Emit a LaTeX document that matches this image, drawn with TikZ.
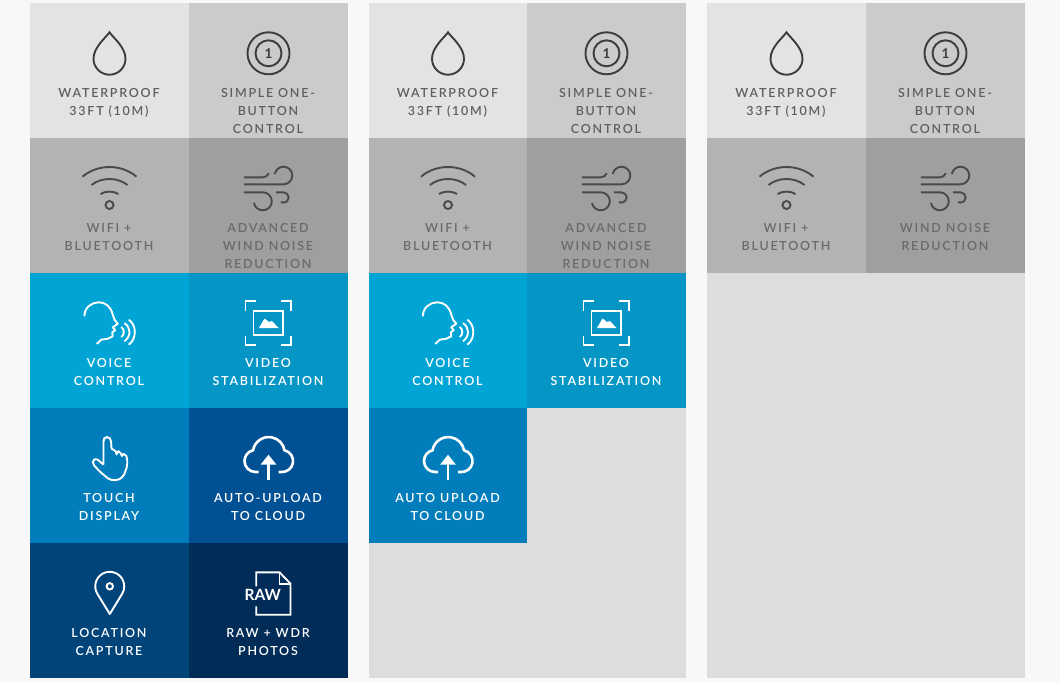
\documentclass[tikz,border=0pt]{standalone}
\usepackage{fontspec}
\setmainfont[LetterSpace=14]{Lato Semibold}
\newfontfamily\rawfont{Lato}
\usetikzlibrary{positioning}
\definecolor{pagebg}{HTML}{F8F8F8}
\definecolor{panelbg}{HTML}{DDDDDD}
\definecolor{toneA}{HTML}{E3E3E1}
\definecolor{toneB}{HTML}{CBCBCB}
\definecolor{toneC}{HTML}{B3B3B3}
\definecolor{toneD}{HTML}{9F9F9F}
\definecolor{toneE}{HTML}{00A5D6}
\definecolor{toneF}{HTML}{0696C6}
\definecolor{toneG}{HTML}{007DBA}
\definecolor{toneH}{HTML}{005193}
\definecolor{toneI}{HTML}{00447A}
\definecolor{toneJ}{HTML}{002C57}
\definecolor{inkA}{HTML}{3C3C3C}
\definecolor{inkB}{HTML}{4A4A4A}
\definecolor{capA}{HTML}{5F5F5F}
\definecolor{capB}{HTML}{6A6A6A}
\tikzset{
  tile/.style={inner sep=0pt,outer sep=0pt,minimum width=159pt,minimum height=135pt},
  captext/.style={inner sep=0pt,outer sep=0pt,align=center,xshift=-.5pt,font=\fontsize{12.5}{18}\selectfont},
  icon/.style={line width=1.9pt},
  pics/drop/.style={code={
    \draw[icon] (0,29.3) .. controls (3,34) and (16,44) .. (16,55.7) arc (0:180:16) .. controls (-16,44) and (-3,34) .. cycle;
  }},
  pics/onebutton/.style={code={
    \draw[icon] (0,50.3) circle (21) (0,50.3) circle (13);
    \node[inner sep=0pt,font=\rawfont\bfseries\fontsize{13.5}{13.5}\selectfont] (-one) at (0,50.3) {1};
  }},
  pics/wifi/.style={code={
    \draw[icon] (-27,38.7) .. controls (-12,25.8) and (12,25.8) .. (27,38.7);
    \draw[icon] (-18,47) .. controls (-8,39) and (8,39) .. (18,47);
    \draw[icon] (-9,56) .. controls (-4,52.8) and (4,52.8) .. (9,56);
    \draw[icon] (0,67) circle (4);
  }},
  pics/wind/.style={code={
    \draw[icon] (-24.7,39.3) -- (-5.7,39.3) .. controls (-3,39.3) and (-1,38) .. (.3,35.3);
    \draw[icon] (-24.7,46.3) -- (15,46.3) arc (90:-170:8.8);
    \draw[icon] (-24.7,54.3) -- (-5.7,54.3) arc (-90:170:9);
    \draw[icon] (7.7,54.3) -- (15,54.3) arc (-90:120:5.2);
  }},
  pics/voice/.style={code={
    \draw[icon,line join=round] (-25,43.3) .. controls (-25.5,35) and (-18,29.3) .. (-11,29.3) .. controls (-4,29.3) and (1,33) .. (3.3,41.7) -- (5,46.7) -- (8.3,50.7) -- (3.3,54.3) -- (5.7,57.3) -- (2.7,59.3) -- (3.3,63.3) -- (-1.7,65.7) -- (-8.3,66.7) -- (-12.7,71);
    \draw[icon] (11.7,54) .. controls (15.2,56) and (15.2,62) .. (11.7,64);
    \draw[icon] (15,50) .. controls (21.7,55) and (21.7,63) .. (15,68.3);
    \draw[icon] (19.3,46.7) .. controls (27.3,52) and (27.3,66) .. (19.3,71.7);
  }},
  pics/video/.style={code={
    \draw[icon] (-23,38) -- (-23,28.3) -- (-13,28.3);
    \draw[icon] (12.7,28.3) -- (22.7,28.3) -- (22.7,38);
    \draw[icon] (-23,62.5) -- (-23,72.3) -- (-13,72.3);
    \draw[icon] (12.7,72.3) -- (22.7,72.3) -- (22.7,62.5);
    \draw[icon] (-15,38.3) rectangle (14.3,62.3);
    \fill (-9.5,55) -- (-4,45.5) -- (.5,49) -- (3.5,48) -- (10,55) -- cycle;
  }},
  pics/touch/.style={code={
    \draw[icon,rounded corners=2pt,line join=round] (-6,56.7) -- (-6,31.7) -- (-4.5,29) -- (-.5,29) -- (1.5,31.7) -- (2,41.7) -- (6,41.7) -- (7.3,47.7) -- (7.5,43.3) -- (10.5,43.3) -- (12.7,49) -- (12.7,46) -- (16,46) -- (17.7,50) -- (17.7,58.3) -- (14,68.3) -- (8.3,72.3) -- (0,71.7) -- (-10,63.3) -- (-16.7,56) -- (-16.7,52) -- (-13.3,50.3) -- (-6,56.7);
  }},
  pics/cloud/.style={code={
    \draw[line width=2.6pt] (-10,64) -- (-13,64) arc (90:257:11) arc (190:350:16) arc (283:450:11) -- (10,64);
    \draw[line width=2.2pt] (0,72.3) -- (0,53);
    \fill (-8,56.7) -- (0,46.7) -- (8,56.7) -- cycle;
  }},
  pics/pin/.style={code={
    \draw[icon,line join=round] (.3,71) -- (-12.1,50.9) arc (148.4:391.6:14.5) -- cycle;
    \draw[icon] (.3,43.3) circle (3.2);
  }},
  pics/rawfile/.style={code={
    \draw[icon] (-12.3,43.3) -- (-12.3,29.3) -- (11,29.3) -- (22,40.7) -- (22,71.7) -- (-12.3,71.7) -- (-12.3,63.3);
    \draw[icon] (11,29.3) -- (11,40.7) -- (22,40.7);
    \node[inner sep=0pt,font=\rawfont\bfseries\fontsize{15.5}{15.5}\selectfont] (-raw) at (-5.7,51.7) {RAW};
  }}
}
\begin{document}
\begin{tikzpicture}[x=1pt,y=-1pt]
\node[anchor=north west,inner sep=0pt,outer sep=0pt,fill=pagebg,minimum width=1060pt,minimum height=682pt] (page) at (0,0) {};
\node[anchor=north west,inner sep=0pt,outer sep=0pt,fill=panelbg,minimum width=317pt,minimum height=675pt] (panelb) at (369,3) {};
\node[anchor=north west,inner sep=0pt,outer sep=0pt,fill=panelbg,minimum width=318pt,minimum height=675pt] (panelc) at (707,3) {};
% first panel
\node[tile,fill=toneA,anchor=north west] (dropa) at (30,3) {};
\node[tile,fill=toneB,right=0pt of dropa] (onea) {};
\node[tile,fill=toneC,below=0pt of dropa] (wifia) {};
\node[tile,fill=toneD,right=0pt of wifia] (winda) {};
\node[tile,fill=toneE,below=0pt of wifia] (voicea) {};
\node[tile,fill=toneF,right=0pt of voicea] (videoa) {};
\node[tile,fill=toneG,below=0pt of voicea] (toucha) {};
\node[tile,fill=toneH,right=0pt of toucha] (clouda) {};
\node[tile,fill=toneI,below=0pt of toucha] (pina) {};
\node[tile,fill=toneJ,right=0pt of pina] (rawa) {};
\pic[color=inkA] at (dropa.north) {drop};
\pic[color=inkA] at (onea.north) {onebutton};
\pic[color=inkB] at (wifia.north) {wifi};
\pic[color=inkB] at (winda.north) {wind};
\pic[color=white] at (voicea.north) {voice};
\pic[color=white] at (videoa.north) {video};
\pic[color=white] at (toucha.north) {touch};
\pic[color=white] at (clouda.north) {cloud};
\pic[color=white] at (pina.north) {pin};
\pic[color=white] at (rawa.north) {rawfile};
\node[captext,text=capA,below=85pt of dropa.north] (dropacap) {WATERPROOF\\33FT (10M)};
\node[captext,text=capA,below=85pt of onea.north] (oneacap) {SIMPLE ONE-\\BUTTON\\CONTROL};
\node[captext,text=capB,below=85.4pt of wifia.north] (wifiacap) {WIFI +\\BLUETOOTH};
\node[captext,text=capB,below=85pt of winda.north] (windacap) {ADVANCED\\WIND NOISE\\REDUCTION};
\node[captext,text=white,below=85pt of voicea.north] (voiceacap) {VOICE\\CONTROL};
\node[captext,text=white,below=85pt of videoa.north] (videoacap) {VIDEO\\STABILIZATION};
\node[captext,text=white,below=85pt of toucha.north] (touchacap) {TOUCH\\DISPLAY};
\node[captext,text=white,below=85pt of clouda.north] (cloudacap) {AUTO-UPLOAD\\TO CLOUD};
\node[captext,text=white,below=85pt of pina.north] (pinacap) {LOCATION\\CAPTURE};
\node[captext,text=white,below=85.4pt of rawa.north] (rawacap) {RAW + WDR\\PHOTOS};
% second panel
\node[tile,minimum width=158pt,fill=toneA,anchor=north west] (dropb) at (369,3) {};
\node[tile,fill=toneB,right=0pt of dropb] (oneb) {};
\node[tile,minimum width=158pt,fill=toneC,below=0pt of dropb] (wifib) {};
\node[tile,fill=toneD,right=0pt of wifib] (windb) {};
\node[tile,minimum width=158pt,fill=toneE,below=0pt of wifib] (voiceb) {};
\node[tile,fill=toneF,right=0pt of voiceb] (videob) {};
\node[tile,minimum width=158pt,fill=toneG,below=0pt of voiceb] (cloudb) {};
\pic[color=inkA] at (dropb.north) {drop};
\pic[color=inkA] at (oneb.north) {onebutton};
\pic[color=inkB] at (wifib.north) {wifi};
\pic[color=inkB] at (windb.north) {wind};
\pic[color=white] at (voiceb.north) {voice};
\pic[color=white] at (videob.north) {video};
\pic[color=white] at (cloudb.north) {cloud};
\node[captext,text=capA,below=85pt of dropb.north] (dropbcap) {WATERPROOF\\33FT (10M)};
\node[captext,text=capA,below=85pt of oneb.north] (onebcap) {SIMPLE ONE-\\BUTTON\\CONTROL};
\node[captext,text=capB,below=85.4pt of wifib.north] (wifibcap) {WIFI +\\BLUETOOTH};
\node[captext,text=capB,below=85pt of windb.north] (windbcap) {ADVANCED\\WIND NOISE\\REDUCTION};
\node[captext,text=white,below=85pt of voiceb.north] (voicebcap) {VOICE\\CONTROL};
\node[captext,text=white,below=85pt of videob.north] (videobcap) {VIDEO\\STABILIZATION};
\node[captext,text=white,below=85pt of cloudb.north] (cloudbcap) {AUTO UPLOAD\\TO CLOUD};
% third panel
\node[tile,fill=toneA,anchor=north west] (dropc) at (707,3) {};
\node[tile,fill=toneB,right=0pt of dropc] (onec) {};
\node[tile,fill=toneC,below=0pt of dropc] (wific) {};
\node[tile,fill=toneD,right=0pt of wific] (windc) {};
\pic[color=inkA] at (dropc.north) {drop};
\pic[color=inkA] at (onec.north) {onebutton};
\pic[color=inkB] at (wific.north) {wifi};
\pic[color=inkB] at (windc.north) {wind};
\node[captext,text=capA,below=85pt of dropc.north] (dropccap) {WATERPROOF\\33FT (10M)};
\node[captext,text=capA,below=85pt of onec.north] (oneccap) {SIMPLE ONE-\\BUTTON\\CONTROL};
\node[captext,text=capB,below=85.4pt of wific.north] (wificcap) {WIFI +\\BLUETOOTH};
\node[captext,text=capB,below=85pt of windc.north] (windccap) {WIND NOISE\\REDUCTION};
\end{tikzpicture}
\end{document}
